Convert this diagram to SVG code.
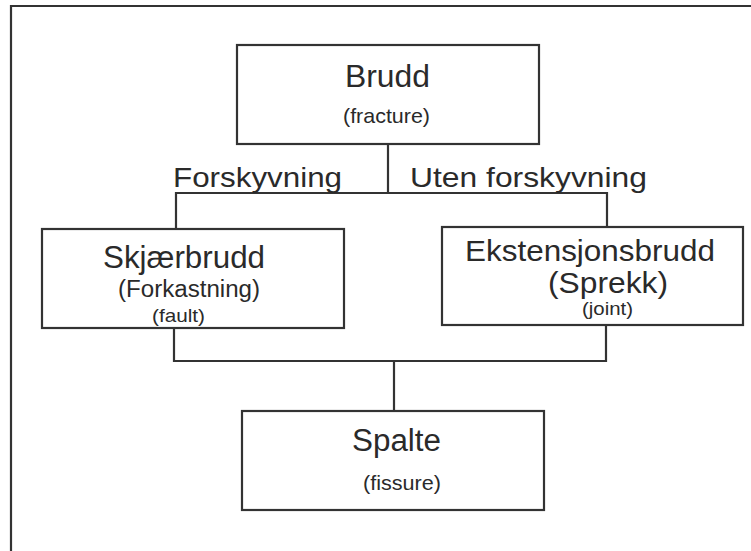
<svg xmlns="http://www.w3.org/2000/svg" width="751" height="551" viewBox="0 0 751 551">
<style>
.box{fill:#fff;stroke:#333;stroke-width:2.2}
.ln{fill:none;stroke:#333;stroke-width:2.2}
text{font-family:"Liberation Sans",Arial,sans-serif;fill:#2a2a2a}
.m{text-anchor:middle}
</style>
<rect width="751" height="551" fill="#fff"/>
<path class="ln" d="M11,551 V6 H751"/>
<g id="connectors">
<path class="ln" d="M388,144 V193 M176,229 V193 H607 V227"/>
<path class="ln" d="M174,328 V361 H606 V325 M394,361 V411"/>
<text x="173" y="187" font-size="28" textLength="169" lengthAdjust="spacingAndGlyphs">Forskyvning</text>
<text x="410" y="187" font-size="28" textLength="237" lengthAdjust="spacingAndGlyphs">Uten forskyvning</text>
</g>
<g id="brudd">
<rect class="box" x="237" y="45" width="302" height="99"/>
<text class="m" x="387.5" y="87" font-size="32" textLength="85" lengthAdjust="spacingAndGlyphs">Brudd</text>
<text class="m" x="386.5" y="123" font-size="21" textLength="87" lengthAdjust="spacingAndGlyphs">(fracture)</text>
</g>
<g id="skjaerbrudd">
<rect class="box" x="42" y="229" width="302" height="99"/>
<text class="m" x="184" y="268" font-size="31" textLength="162" lengthAdjust="spacingAndGlyphs">Skjærbrudd</text>
<text class="m" x="189" y="297" font-size="23" textLength="142" lengthAdjust="spacingAndGlyphs">(Forkastning)</text>
<text class="m" x="178.5" y="322" font-size="19" textLength="53" lengthAdjust="spacingAndGlyphs">(fault)</text>
</g>
<g id="ekstensjonsbrudd">
<rect class="box" x="442" y="227" width="301" height="98"/>
<text class="m" x="590" y="261" font-size="30" textLength="250" lengthAdjust="spacingAndGlyphs">Ekstensjonsbrudd</text>
<text class="m" x="608" y="293" font-size="29" textLength="120" lengthAdjust="spacingAndGlyphs">(Sprekk)</text>
<text class="m" x="607.5" y="315" font-size="18" textLength="51" lengthAdjust="spacingAndGlyphs">(joint)</text>
</g>
<g id="spalte">
<rect class="box" x="242" y="411" width="302" height="99"/>
<text class="m" x="396.5" y="451" font-size="31" textLength="89" lengthAdjust="spacingAndGlyphs">Spalte</text>
<text class="m" x="402" y="490" font-size="21" textLength="78" lengthAdjust="spacingAndGlyphs">(fissure)</text>
</g>
</svg>
